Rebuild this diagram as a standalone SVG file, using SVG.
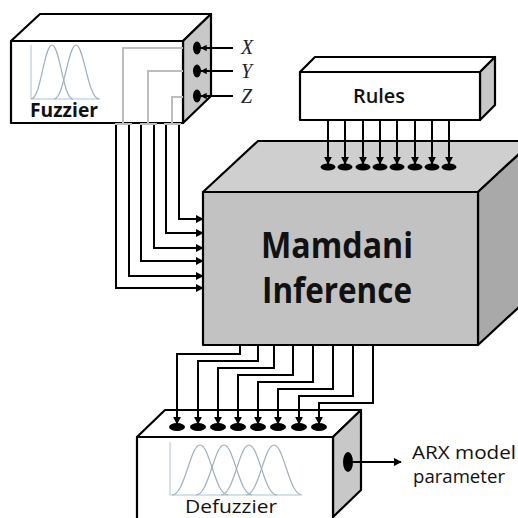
<svg xmlns="http://www.w3.org/2000/svg" width="518" height="518" viewBox="0 0 518 518">
<defs>
<marker id="ah" viewBox="0 0 10 10" refX="9" refY="5" markerWidth="4" markerHeight="4" markerUnits="strokeWidth" orient="auto"><path d="M0,0 L10,5 L0,10 z" fill="#000"/></marker>
<marker id="ah2" viewBox="0 0 10 10" refX="9" refY="5" markerWidth="3.2" markerHeight="3.2" markerUnits="strokeWidth" orient="auto"><path d="M0,0 L10,5 L0,10 z" fill="#000"/></marker>
<style>
.edge{fill:none;stroke:#000;stroke-width:2}
.box{stroke:#000;stroke-width:2.2;stroke-linejoin:round}
.white{fill:#fff}
.side{fill:#c8c8c8}
.gline{fill:none;stroke:#bdbdbd;stroke-width:2}
.mf{fill:none;stroke:#9fb0bd;stroke-width:1.2}
.axis{fill:none;stroke:#a9c4d6;stroke-width:1}
.lbl{font-family:"Open Sans","Liberation Sans",sans-serif;fill:#111}
.var{font-family:"Liberation Serif",serif;font-style:italic;font-size:20px;fill:#222}
.port{fill:#000}
</style>
</defs>

<g id="fuzzier">
<polygon class="box white" points="11,41 40,14 211,14 183,41"/>
<polygon class="box side" points="183,41 211,14 211,96 183,123"/>
<rect class="box white" x="11" y="41" width="172" height="82"/>
<path class="axis" d="M31,45 V99 H100"/>
<path class="mf" d="M31,99 C41,99 44,45 52,45 C60,45 63,99 73,99"/>
<path class="mf" d="M54,99 C64,99 68,45 76,45 C84,45 88,99 99,99"/>
<path class="gline" d="M183,48 H123 V123 M183,71 H148 V123 M183,97 H172 V123"/>
<path class="gline" stroke-width="3" d="M115,124 H132 M140,124 H157 M164,124 H181"/>
<ellipse class="port" cx="197" cy="48" rx="4" ry="6.5"/>
<ellipse class="port" cx="197" cy="71" rx="4" ry="6.5"/>
<ellipse class="port" cx="197" cy="96" rx="4" ry="6.5"/>
<text class="lbl" x="30" y="117" font-size="19" font-weight="700" textLength="68" lengthAdjust="spacingAndGlyphs">Fuzzier</text>
</g>

<g id="inputs">
<text class="var" x="241" y="54">X</text>
<text class="var" x="241" y="78">Y</text>
<text class="var" x="241" y="103">Z</text>
</g>

<g id="rules">
<polygon class="box white" points="300,72 315,57 495,57 480,72"/>
<polygon class="box side" points="480,72 495,57 495,105 480,120"/>
<rect class="box white" x="300" y="72" width="180" height="48"/>
<text class="lbl" x="353" y="103" font-size="20" font-weight="600" textLength="52" lengthAdjust="spacingAndGlyphs">Rules</text>
</g>

<g id="mamdani">
<polygon class="box" fill="#cfcfcf" points="203,192 258,141 533,141 478,192"/>
<polygon class="box" fill="#a9a9a9" points="478,192 533,141 533,294 478,345"/>
<rect class="box" fill="#c2c2c2" x="203" y="192" width="275" height="153"/>
<text class="lbl" x="261" y="258" font-size="35" font-weight="700" textLength="152" lengthAdjust="spacingAndGlyphs">Mamdani</text>
<text class="lbl" x="262" y="303" font-size="35" font-weight="700" textLength="150" lengthAdjust="spacingAndGlyphs">Inference</text>
<g class="port">
<ellipse cx="328" cy="167" rx="7.5" ry="3.5"/><ellipse cx="345" cy="167" rx="7.5" ry="3.5"/>
<ellipse cx="363" cy="167" rx="7.5" ry="3.5"/><ellipse cx="380" cy="167" rx="7.5" ry="3.5"/>
<ellipse cx="397" cy="167" rx="7.5" ry="3.5"/><ellipse cx="415" cy="167" rx="7.5" ry="3.5"/>
<ellipse cx="432" cy="167" rx="7.5" ry="3.5"/><ellipse cx="449" cy="167" rx="7.5" ry="3.5"/>
</g>
</g>

<g id="defuzzier">
<polygon class="box white" points="137,437 165,410 361,410 333,437"/>
<polygon class="box side" points="333,437 361,410 361,490 333,517"/>
<rect class="box white" x="137" y="437" width="196" height="82"/>
<path class="axis" d="M170,442 V495 H300"/>
<path class="mf" d="M172,495 C185,495 190,445 200,445 C210,445 215,495 228,495"/>
<path class="mf" d="M196,495 C209,495 214,445 224,445 C234,445 239,495 252,495"/>
<path class="mf" d="M221,495 C234,495 239,445 249,445 C259,445 264,495 277,495"/>
<path class="mf" d="M246,495 C259,495 264,445 274,445 C284,445 289,495 302,495"/>
<g class="port">
<ellipse cx="177" cy="427" rx="8" ry="4"/><ellipse cx="198" cy="427" rx="8" ry="4"/>
<ellipse cx="218" cy="427" rx="8" ry="4"/><ellipse cx="238" cy="427" rx="8" ry="4"/>
<ellipse cx="258" cy="427" rx="8" ry="4"/><ellipse cx="278" cy="427" rx="8" ry="4"/>
<ellipse cx="299" cy="427" rx="8" ry="4"/><ellipse cx="319" cy="427" rx="8" ry="4"/>
<ellipse cx="348" cy="462" rx="5" ry="10"/>
</g>
<text class="lbl" x="185" y="513" font-size="19" font-weight="500" textLength="92" lengthAdjust="spacingAndGlyphs">Defuzzier</text>
</g>

<g id="output">
<text class="lbl" x="412" y="459" font-size="18" font-weight="500" textLength="104" lengthAdjust="spacingAndGlyphs">ARX model</text>
<text class="lbl" x="413" y="483" font-size="18" font-weight="500" textLength="92" lengthAdjust="spacingAndGlyphs">parameter</text>
</g>

<g id="connectors">
<path class="edge" stroke-width="3.2" marker-end="url(#ah2)" d="M233,48 H201"/>
<path class="edge" stroke-width="3.2" marker-end="url(#ah2)" d="M233,71 H201"/>
<path class="edge" stroke-width="3.2" marker-end="url(#ah2)" d="M233,96 H201"/>

<path class="edge" marker-end="url(#ah)" d="M179,125 V219 H203"/>
<path class="edge" marker-end="url(#ah)" d="M166,125 V233 H203"/>
<path class="edge" marker-end="url(#ah)" d="M154,125 V248 H203"/>
<path class="edge" marker-end="url(#ah)" d="M141,125 V261 H203"/>
<path class="edge" marker-end="url(#ah)" d="M129,125 V276 H203"/>
<path class="edge" marker-end="url(#ah)" d="M116,125 V288 H203"/>

<path class="edge" marker-end="url(#ah)" d="M328,121 V164"/>
<path class="edge" marker-end="url(#ah)" d="M345,121 V164"/>
<path class="edge" marker-end="url(#ah)" d="M363,121 V164"/>
<path class="edge" marker-end="url(#ah)" d="M380,121 V164"/>
<path class="edge" marker-end="url(#ah)" d="M397,121 V164"/>
<path class="edge" marker-end="url(#ah)" d="M415,121 V164"/>
<path class="edge" marker-end="url(#ah)" d="M432,121 V164"/>
<path class="edge" marker-end="url(#ah)" d="M449,121 V164"/>

<path class="edge" marker-end="url(#ah)" d="M240,346 V354 H177 V424"/>
<path class="edge" marker-end="url(#ah)" d="M258,346 V361 H198 V424"/>
<path class="edge" marker-end="url(#ah)" d="M274,346 V368 H218 V424"/>
<path class="edge" marker-end="url(#ah)" d="M293,346 V375 H238 V424"/>
<path class="edge" marker-end="url(#ah)" d="M313,346 V382 H258 V424"/>
<path class="edge" marker-end="url(#ah)" d="M333,346 V389 H278 V424"/>
<path class="edge" marker-end="url(#ah)" d="M353,346 V396 H299 V424"/>
<path class="edge" marker-end="url(#ah)" d="M373,346 V403 H319 V424"/>

<path class="edge" marker-end="url(#ah)" d="M351,462 H401"/>
</g>
</svg>
